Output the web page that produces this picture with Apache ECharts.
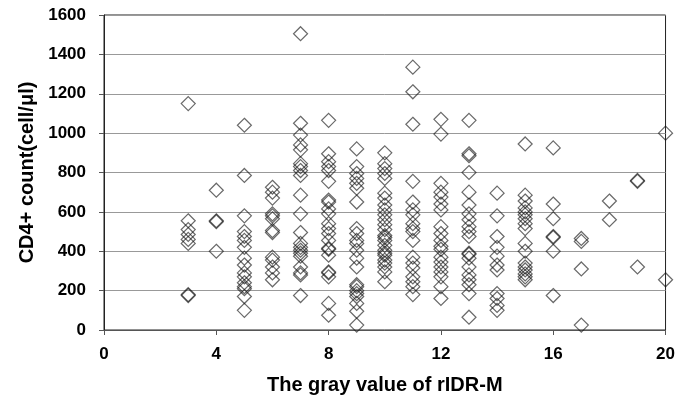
<!DOCTYPE html>
<html>
<head>
<meta charset="utf-8">
<script src="https://cdn.jsdelivr.net/npm/echarts@6/dist/echarts.min.js"></script>
<style>
	html, body { margin: 0; padding: 0; background: #fff; }
	#chart { width: 678px; height: 402px; }
</style>
</head>
<body>
<div id="chart"></div>
<script>
// CD4+ counts read per gray value column
var g3 = [1150, 555, 510, 485, 460, 440, 180, 175];
var g4 = [710, 555, 550, 400];
var g5 = [1040, 785, 580, 500, 475, 455, 420, 365, 330, 290, 270, 240, 220, 210, 170, 100];
var g6 = [725, 700, 670, 590, 580, 565, 505, 495, 370, 355, 320, 290, 255];
var g7 = [1505, 1050, 990, 940, 915, 845, 830, 810, 785, 685, 590, 495, 440, 420, 405, 390, 375, 320, 290, 280, 175];
var g8 = [1065, 895, 855, 830, 810, 755, 660, 650, 615, 590, 540, 515, 490, 455, 415, 410, 380, 295, 290, 270, 135, 75];
var g9 = [920, 830, 795, 770, 745, 720, 650, 515, 490, 455, 440, 405, 365, 320, 230, 220, 200, 185, 170, 135, 95, 25];
var g10 = [900, 845, 820, 795, 770, 695, 670, 635, 610, 585, 560, 535, 510, 480, 455, 430, 405, 380, 355, 320, 295, 245, 470, 390, 340];
var g11 = [1335, 1210, 1045, 755, 650, 610, 585, 540, 515, 500, 455, 370, 340, 315, 270, 245, 220, 180];
var g12 = [1070, 995, 745, 700, 675, 640, 610, 525, 490, 455, 425, 410, 370, 345, 320, 295, 270, 220, 160];
var g13 = [1065, 895, 885, 800, 700, 635, 590, 560, 525, 500, 475, 390, 385, 365, 320, 280, 255, 230, 185, 65];
var g14 = [695, 580, 475, 420, 375, 330, 305, 185, 160, 125, 100];
var g15 = [945, 685, 655, 620, 600, 585, 565, 540, 515, 440, 400, 340, 320, 305, 285, 270, 255];
var g16 = [925, 640, 565, 475, 470, 400, 175];
var g17 = [465, 450, 310, 25];
var g18 = [655, 560];
var g19 = [755, 760, 320];
var g20 = [1000, 255];

var grayValues = [3, 4, 5, 6, 7, 8, 9, 10, 11, 12, 13, 14, 15, 16, 17, 18, 19, 20];
var counts = [g3, g4, g5, g6, g7, g8, g9, g10, g11, g12, g13, g14, g15, g16, g17, g18, g19, g20];

var points = [];
for (var i = 0; i < grayValues.length; i++) {
	for (var j = 0; j < counts[i].length; j++) {
		points.push([grayValues[i], counts[i][j]]);
	}
}

var myChart = echarts.init(document.getElementById("chart"));
var tickFont = {
	fontFamily: "Liberation Sans",
	fontWeight: "bold",
	fontSize: 17,
	color: "#000"
};
var nameFont = {
	fontFamily: "Liberation Sans",
	fontWeight: "bold",
	fontSize: 20,
	color: "#000"
};
var option = {
	animation: false,
	backgroundColor: "#fff",
	grid: {
		left: 104,
		right: 11,
		top: 15,
		bottom: 72,
		show: true,
		borderColor: "#222",
		borderWidth: 1
	},
	xAxis: {
		type: "value",
		min: 0,
		max: 20,
		interval: 4,
		name: "The gray value of rIDR-M",
		nameLocation: "middle",
		nameGap: 45,
		nameTextStyle: nameFont,
		axisLine: { lineStyle: { color: "#555", width: 1 } },
		axisTick: { show: true, length: 5, lineStyle: { color: "#555" } },
		axisLabel: Object.assign({ margin: 16 }, tickFont),
		splitLine: { show: false }
	},
	yAxis: {
		type: "value",
		min: 0,
		max: 1600,
		interval: 200,
		name: "CD4+ count(cell/μl)",
		nameLocation: "middle",
		nameGap: 64,
		nameRotate: 90,
		nameTextStyle: nameFont,
		axisLine: { show: true, lineStyle: { color: "#222", width: 1 } },
		axisTick: { show: true, length: 5, lineStyle: { color: "#555" } },
		axisLabel: Object.assign({
			margin: 18,
			formatter: function (v) { return String(v); }
		}, tickFont),
		splitLine: { show: true, lineStyle: { color: "#999", width: 1 } }
	},
	series: [
		{
			type: "scatter",
			data: points,
			symbol: "diamond",
			symbolSize: [14, 14],
			clip: false,
			itemStyle: {
				color: "rgba(0,0,0,0)",
				borderColor: "rgba(20,20,20,0.8)",
				borderWidth: 1.2
			}
		}
	]
};
myChart.setOption(option);
</script>
</body>
</html>
